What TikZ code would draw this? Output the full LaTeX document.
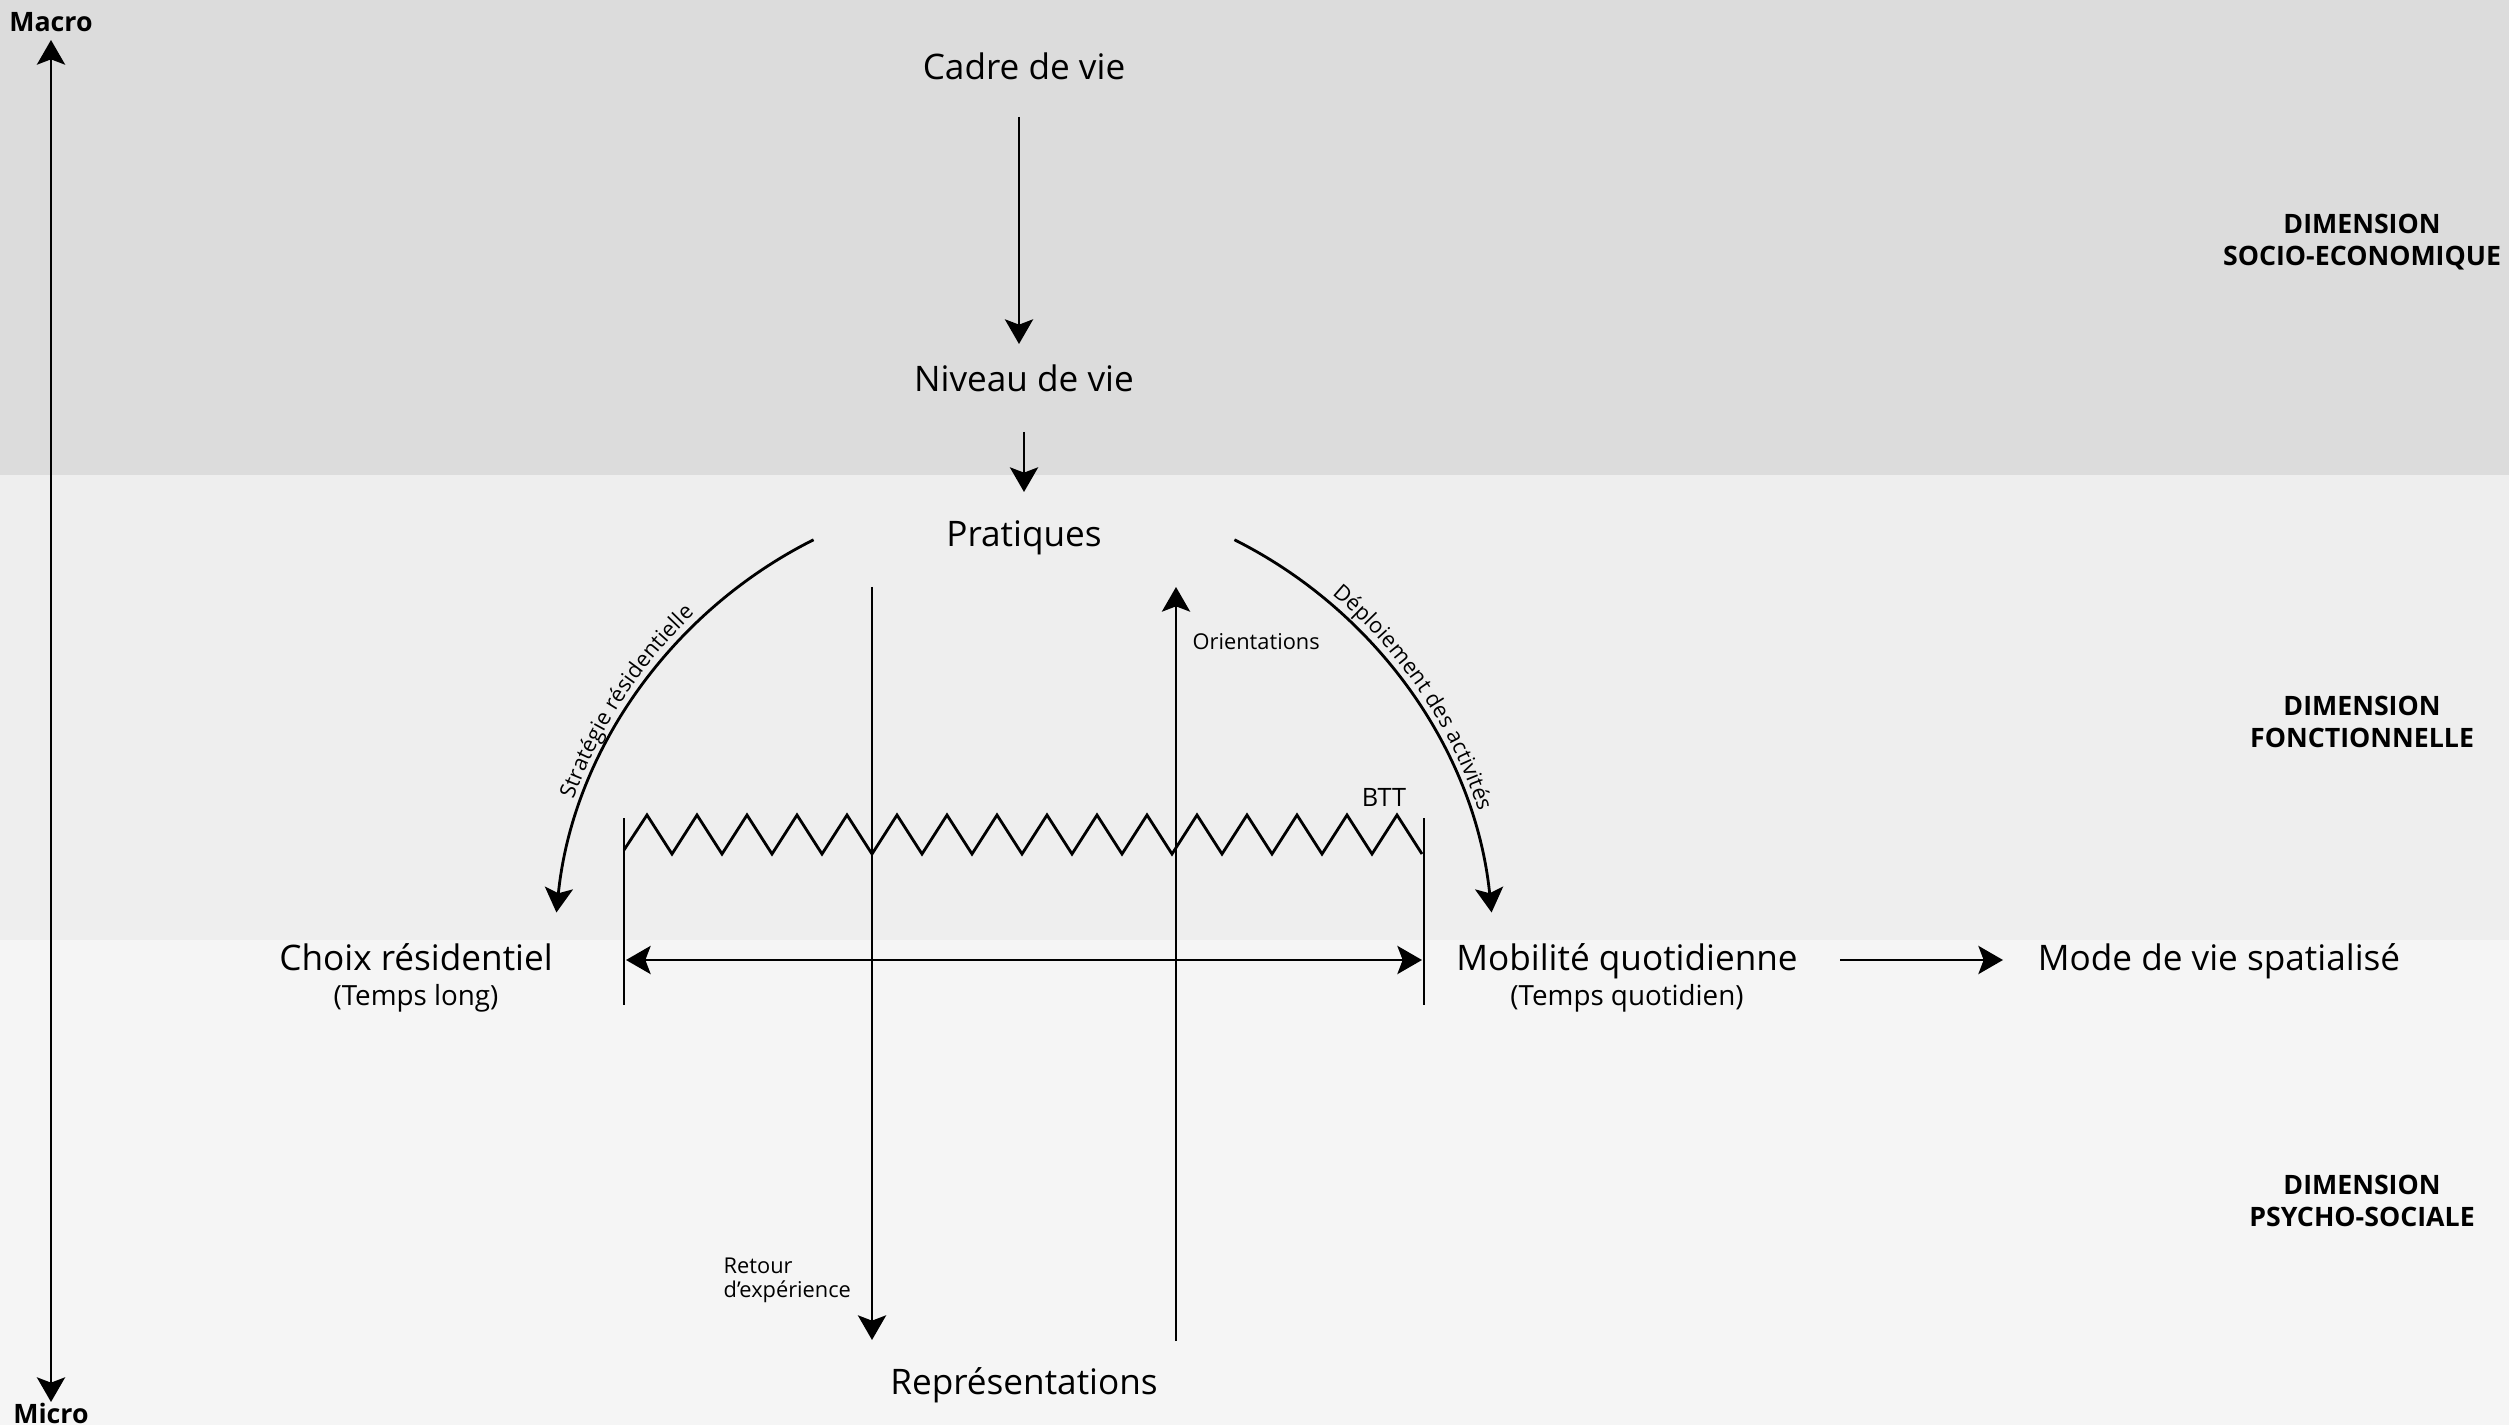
\documentclass[tikz,border=0pt]{standalone}
\usepackage{fontspec}
\setmainfont{Open Sans}
\usetikzlibrary{arrows.meta,decorations.text,calc}
\definecolor{bandtop}{RGB}{220,220,220}
\definecolor{bandmid}{RGB}{238,238,238}
\definecolor{bandlow}{RGB}{245,245,245}
\tikzset{
  mainlbl/.style={font=\fontsize{10}{12}\selectfont, inner sep=0pt, anchor=base},
  sublbl/.style={font=\fontsize{7.9}{9.5}\selectfont, inner sep=0pt},
  smalllbl/.style={font=\fontsize{6.2}{6.9}\selectfont, inner sep=0pt, align=left},
  dimlbl/.style={font=\bfseries\fontsize{7.6}{9.1}\selectfont, align=center, inner sep=0pt},
  axislbl/.style={font=\bfseries\fontsize{7.6}{9}\selectfont, inner sep=0pt},
  conn/.style={line width=0.8pt},
  arr/.style={conn, -{Stealth[length=7pt,width=8pt,inset=1.5pt]}},
  darr/.style={conn, {Stealth[length=7pt,width=8pt,inset=1.5pt]}-{Stealth[length=7pt,width=8pt,inset=1.5pt]}},
}
\begin{document}
\begin{tikzpicture}[x=0.01cm,y=0.01cm]
% background bands
\fill[bandtop] (0,0) rectangle (2509,-475);
\fill[bandmid] (0,-475) rectangle (2509,-940);
\fill[bandlow] (0,-940) rectangle (2509,-1425);
\useasboundingbox (0,0) rectangle (2509,-1425);

% axis
\node[axislbl] (macro) at (51,-22) {Macro};
\node[axislbl] (micro) at (51,-1413) {Micro};
\coordinate (axtop) at (51,-40);
\coordinate (axbot) at (51,-1402);
\draw[darr] (axtop) -- (axbot);

% dimension labels
\node[dimlbl] (dse) at (2362,-242) {DIMENSION\\SOCIO-ECONOMIQUE};
\node[dimlbl] (dfo) at (2362,-722) {DIMENSION\\FONCTIONNELLE};
\node[dimlbl] (dps) at (2362,-1201) {DIMENSION\\PSYCHO-SOCIALE};

% main nodes (placed on their baselines)
\node[mainlbl] (cadre) at (1024,-80) {Cadre de vie};
\node[mainlbl] (niveau) at (1024,-392) {Niveau de vie};
\node[mainlbl] (prat) at (1024,-547) {Pratiques};
\node[mainlbl] (repr) at (1024,-1394) {Représentations};
\node[mainlbl] (choix) at (416,-970) {Choix résidentiel};
\node[sublbl] (tlong) at (416,-998) {(Temps long)};
\node[mainlbl] (mob) at (1627,-970) {Mobilité quotidienne};
\node[sublbl] (tquot) at (1627,-998) {(Temps quotidien)};
\node[mainlbl] (mode) at (2219,-970) {Mode de vie spatialisé};

% vertical arrows top
\coordinate (c1) at (1019,-117);
\coordinate (n1) at (1019,-344);
\draw[arr] (c1) -- (n1);
\coordinate (n2) at (1024,-432);
\coordinate (p2) at (1024,-492);
\draw[arr] (n2) -- (p2);

% arcs
\coordinate (ctr) at (1024,-960);
\coordinate (ls) at ($(ctr)+(116.6:470)$);
\coordinate (rs) at ($(ctr)+(63.4:470)$);
\draw[arr] (ls) arc[start angle=116.6, end angle=174.2, radius=470];
\draw[arr] (rs) arc[start angle=63.4, end angle=5.8, radius=470];
\path[decorate, decoration={text along path, text align=center, raise=2.3pt,
  text={|\fontsize{6.2}{7}\selectfont|Stratégie résidentielle}}]
  (ctr) ++(180:470) arc[start angle=180, end angle=114, radius=470];
\path[decorate, decoration={text along path, text align=center, raise=2.3pt,
  text={|\fontsize{6.2}{7}\selectfont|Déploiement des activités}}]
  (ctr) ++(68:470) arc[start angle=68, end angle=0, radius=470];

% crossing verticals
\coordinate (dtop) at (872,-587);
\coordinate (dbot) at (872,-1340);
\draw[arr] (dtop) -- (dbot);
\coordinate (utop) at (1176,-587);
\coordinate (ubot) at (1176,-1341);
\draw[arr] (ubot) -- (utop);
\node[smalllbl, anchor=west] (orient) at (1192,-642) {Orientations};
\node[smalllbl, anchor=west] (retour) at (723,-1280) {Retour\\d’expérience};

% BTT bracket
\coordinate (bl1) at (624,-818);
\coordinate (bl2) at (624,-1005);
\coordinate (br1) at (1424,-818);
\coordinate (br2) at (1424,-1005);
\draw[conn] (bl1) -- (bl2);
\draw[conn] (br1) -- (br2);
\draw[conn, line join=miter] (624,-850) \foreach \k in {0,...,15} { -- ({647+50*\k},-815) -- ({672+50*\k},-854) };
\node[font=\fontsize{7.2}{8}\selectfont, inner sep=0pt] (btt) at (1384,-797) {BTT};
\coordinate (ha) at (626,-960);
\coordinate (hb) at (1422,-960);
\draw[darr] (ha) -- (hb);

% to mode de vie
\coordinate (m1) at (1840,-960);
\coordinate (m2) at (2003,-960);
\draw[arr] (m1) -- (m2);
\end{tikzpicture}
\end{document}
